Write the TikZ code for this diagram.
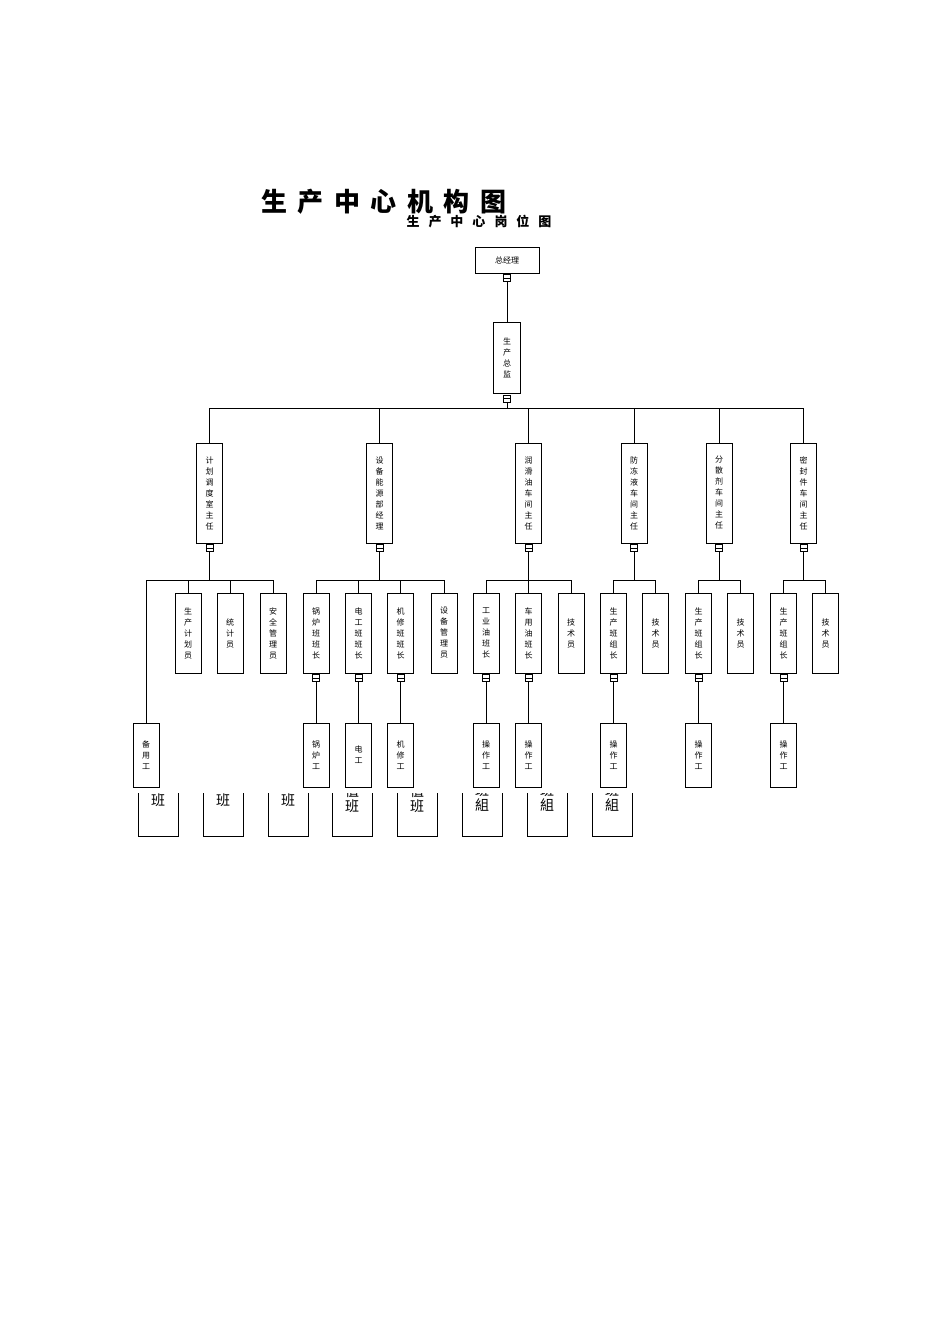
\documentclass[tikz,border=0pt]{standalone}
\usepackage{fontspec}
\setmainfont{Noto Sans CJK SC}
\usetikzlibrary{positioning}
\begin{document}
\begin{tikzpicture}[x=1pt,y=-1pt,
  box/.style={draw, line width=0.8pt, inner sep=0pt, align=center, font=\fontsize{8}{11}\selectfont},
  topbox/.style={box, minimum width=64pt, minimum height=26pt},
  pdbox/.style={box, minimum width=27pt, minimum height=71pt},
  lvtwo/.style={box, minimum width=26pt, minimum height=100pt},
  lvthree/.style={box, minimum width=26pt, minimum height=80pt},
  lvfour/.style={box, minimum width=26pt, minimum height=64pt},
  conn/.style={draw, line width=0.6pt, minimum width=7pt, minimum height=7pt, inner sep=0pt,
    path picture={\draw[line width=0.6pt] (path picture bounding box.west) -- (path picture bounding box.east);}},
  link/.style={line width=0.8pt},
  ubox/.style={line width=0.8pt},
  utext/.style={font=\fontsize{14}{15}\selectfont, align=center, inner sep=0pt}
]
\useasboundingbox (0,0) rectangle (950,1344);

% titles
\node[font=\fontsize{26}{27}\bfseries\selectfont, inner sep=0pt] (title) at (384,201.5)
  {生\kern10.5pt 产\kern10.5pt 中\kern10.5pt 心\kern10.5pt 机\kern10.5pt 构\kern10.5pt 图};
\node[font=\fontsize{13}{14}\bfseries\selectfont, inner sep=0pt] (subtitle) at (479,222)
  {生\kern9pt 产\kern9pt 中\kern9pt 心\kern9pt 岗\kern9pt 位\kern9pt 图};

% level 0 / 1
\node[topbox] (gm) at (507,260) {总经理};
\node[conn, below=1pt of gm] (cgm) {};
\node[pdbox] (pd) at (507,358) {生\\产\\总\\监};
\node[conn, below=1pt of pd] (cpd) {};
\draw[link] (cgm.south) -- (pd.north);
\coordinate (bar0) at (507,408);
\draw[link] (cpd.south) -- (bar0);

% level 2
\node[lvtwo] (l2a) at (209.5,493) {计\\划\\调\\度\\室\\主\\任};
\node[lvtwo] (l2b) at (379.5,493) {设\\备\\能\\源\\部\\经\\理};
\node[lvtwo] (l2c) at (528.5,493) {润\\滑\\油\\车\\间\\主\\任};
\node[lvtwo] (l2d) at (634,493) {防\\冻\\液\\车\\间\\主\\任};
\node[lvtwo] (l2e) at (719,493) {分\\散\\剂\\车\\间\\主\\任};
\node[lvtwo] (l2f) at (803.5,493) {密\\封\\件\\车\\间\\主\\任};
\draw[link] (l2a.north |- bar0) -- (l2f.north |- bar0);
\foreach \n in {l2a,l2b,l2c,l2d,l2e,l2f}{
  \draw[link] (\n.north |- bar0) -- (\n.north);
  \node[conn, below=1pt of \n] (c\n) {};
}

% level 3
\coordinate (bar1) at (0,580);
\node[lvthree] (l3a1) at (188,633) {生\\产\\计\\划\\员};
\node[lvthree] (l3a2) at (230,633) {统\\计\\员};
\node[lvthree] (l3a3) at (273,633) {安\\全\\管\\理\\员};
\node[lvthree] (l3b1) at (316,633) {锅\\炉\\班\\班\\长};
\node[lvthree] (l3b2) at (358.5,633) {电\\工\\班\\班\\长};
\node[lvthree] (l3b3) at (400.5,633) {机\\修\\班\\班\\长};
\node[lvthree] (l3b4) at (444,633) {设\\备\\管\\理\\员};
\node[lvthree] (l3c1) at (486,633) {工\\业\\油\\班\\长};
\node[lvthree] (l3c2) at (528.5,633) {车\\用\\油\\班\\长};
\node[lvthree] (l3c3) at (571,633) {技\\术\\员};
\node[lvthree] (l3d1) at (613.5,633) {生\\产\\班\\组\\长};
\node[lvthree] (l3d2) at (655.5,633) {技\\术\\员};
\node[lvthree] (l3e1) at (698.5,633) {生\\产\\班\\组\\长};
\node[lvthree] (l3e2) at (740.5,633) {技\\术\\员};
\node[lvthree] (l3f1) at (783.5,633) {生\\产\\班\\组\\长};
\node[lvthree] (l3f2) at (825.5,633) {技\\术\\员};

% level 4
\node[lvfour] (l4a) at (146,755) {备\\用\\工};
\node[lvfour] (l4b1) at (316,755) {锅\\炉\\工};
\node[lvfour] (l4b2) at (358.5,755) {电\\工};
\node[lvfour] (l4b3) at (400.5,755) {机\\修\\工};
\node[lvfour] (l4c1) at (486,755) {操\\作\\工};
\node[lvfour] (l4c2) at (528.5,755) {操\\作\\工};
\node[lvfour] (l4d1) at (613.5,755) {操\\作\\工};
\node[lvfour] (l4e1) at (698.5,755) {操\\作\\工};
\node[lvfour] (l4f1) at (783.5,755) {操\\作\\工};

% group bars level 3
\draw[link] (cl2a.south) -- (cl2a.south |- bar1);
\draw[link] (l4a.north |- bar1) -- (l3a3.north |- bar1);
\draw[link] (l4a.north |- bar1) -- (l4a.north);
\foreach \n in {l3a1,l3a2,l3a3}{\draw[link] (\n.north |- bar1) -- (\n.north);}

\draw[link] (cl2b.south) -- (cl2b.south |- bar1);
\draw[link] (l3b1.north |- bar1) -- (l3b4.north |- bar1);
\foreach \n in {l3b1,l3b2,l3b3,l3b4}{\draw[link] (\n.north |- bar1) -- (\n.north);}

\draw[link] (cl2c.south) -- (cl2c.south |- bar1);
\draw[link] (l3c1.north |- bar1) -- (l3c3.north |- bar1);
\foreach \n in {l3c1,l3c2,l3c3}{\draw[link] (\n.north |- bar1) -- (\n.north);}

\draw[link] (cl2d.south) -- (cl2d.south |- bar1);
\draw[link] (l3d1.north |- bar1) -- (l3d2.north |- bar1);
\foreach \n in {l3d1,l3d2}{\draw[link] (\n.north |- bar1) -- (\n.north);}

\draw[link] (cl2e.south) -- (cl2e.south |- bar1);
\draw[link] (l3e1.north |- bar1) -- (l3e2.north |- bar1);
\foreach \n in {l3e1,l3e2}{\draw[link] (\n.north |- bar1) -- (\n.north);}

\draw[link] (cl2f.south) -- (cl2f.south |- bar1);
\draw[link] (l3f1.north |- bar1) -- (l3f2.north |- bar1);
\foreach \n in {l3f1,l3f2}{\draw[link] (\n.north |- bar1) -- (\n.north);}

% level 3 -> level 4
\foreach \p/\c in {l3b1/l4b1,l3b2/l4b2,l3b3/l4b3,l3c1/l4c1,l3c2/l4c2,l3d1/l4d1,l3e1/l4e1,l3f1/l4f1}{
  \node[conn, below=1pt of \p] (c\p) {};
  \draw[link] (c\p.south) -- (\c.north);
}

% bottom open boxes
\foreach \i/\xa/\xb in {1/138/178,2/203/243,3/268/308,4/332/372,5/397/437,6/462/502,7/527/567,8/592/632}{
  \draw[ubox] (\xa,793) -- (\xa,836) -- (\xb,836) -- (\xb,793);
}
\begin{scope}
  \clip (100,793) rectangle (650,840);
  \node[utext] (u1) at (158,800.5) {班};
  \node[utext] (u2) at (223,800.5) {班};
  \node[utext] (u3) at (288,800.5) {班};
  \node[utext] (u4) at (352,799) {值\\班};
  \node[utext] (u5) at (417,799) {值\\班};
  \node[utext] (u6) at (482,797.5) {班\\組};
  \node[utext] (u7) at (547,797.5) {班\\組};
  \node[utext] (u8) at (612,797.5) {班\\組};
\end{scope}
\end{tikzpicture}
\end{document}
